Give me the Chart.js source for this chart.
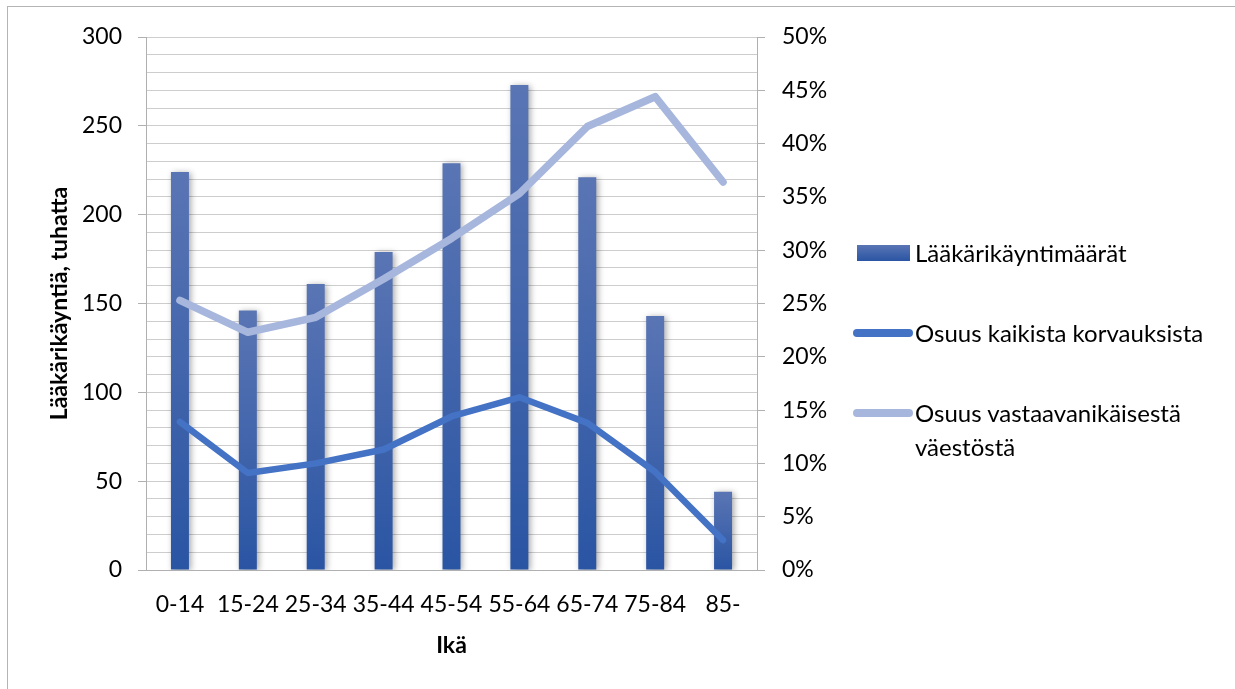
<!DOCTYPE html>
<html>
<head>
<meta charset="utf-8">
<script src="https://cdn.jsdelivr.net/npm/chart.js@4.4.1/dist/chart.umd.min.js"></script>
<style>
  html, body { margin: 0; padding: 0; background: #fff; }
  body { width: 1235px; height: 689px; position: relative; overflow: hidden; font-family: Lato, "Open Sans", sans-serif; }
  #frame { position: absolute; left: 7px; top: 6px; width: 1400px; height: 900px; border: 1px solid #b4b4b4; box-sizing: border-box; }
  #c { position: absolute; left: 0; top: 0; }
  .lg { position: absolute; left: 853px; font-size: 24px; color: #000; line-height: 34px; }
  .lg .sw { position: absolute; }
  .lg .tx { position: absolute; left: 62px; white-space: nowrap; }
</style>
</head>
<body>
<div id="frame"></div>
<canvas id="c" width="1235" height="689"></canvas>
<div id="legend"></div>
<script>
const categories = ['0-14', '15-24', '25-34', '35-44', '45-54', '55-64', '65-74', '75-84', '85-'];
const visits = [224, 146, 161, 179, 229, 273, 221, 143, 44];
const shareOfCompensations = [13.9, 9.1, 10.0, 11.3, 14.4, 16.2, 13.8, 9.2, 2.8];
const shareOfPopulation = [25.3, 22.3, 23.7, 27.3, 31.1, 35.3, 41.6, 44.4, 36.4];
const seriesNames = ['Lääkärikäyntimäärät', 'Osuus kaikista korvauksista', 'Osuus vastaavanikäisestä väestöstä'];
const leftTicks = [0, 50, 100, 150, 200, 250, 300];
const rightTicks = [0, 5, 10, 15, 20, 25, 30, 35, 40, 45, 50];

const BAR_TOP = '#5a75b4';
const BAR_BOTTOM = '#2a55a3';
const DARK_LINE = '#4472c4';
const LIGHT_LINE = '#a7b6dc';
const AXIS = '#b0b0b0';
const GRID = '#cdcdcd';
const FONT = 'Lato, "Open Sans", sans-serif';
const TICK_SIZE = 23;

function barGradient(context) {
  const chart = context.chart;
  const ys = chart.scales.y;
  if (!ys || context.dataIndex === undefined) return BAR_BOTTOM;
  const v = context.dataset.data[context.dataIndex];
  const top = ys.getPixelForValue(v);
  const base = ys.getPixelForValue(0);
  if (!isFinite(top) || !isFinite(base) || top === base) return BAR_BOTTOM;
  const g = chart.ctx.createLinearGradient(0, top, 0, base);
  g.addColorStop(0, BAR_TOP);
  g.addColorStop(1, BAR_BOTTOM);
  return g;
}

const shadowPlugin = {
  id: 'barShadow',
  beforeDatasetDraw(chart, args) {
    if (args.index === 0) {
      const ctx = chart.ctx;
      ctx.save();
      ctx.shadowColor = 'rgba(0,0,0,0.35)';
      ctx.shadowBlur = 6;
      ctx.shadowOffsetX = 2;
      ctx.shadowOffsetY = 1;
    }
  },
  afterDatasetDraw(chart, args) {
    if (args.index === 0) chart.ctx.restore();
  }
};

new Chart(document.getElementById('c'), {
  data: {
    labels: categories,
    datasets: [
      {
        type: 'bar', label: seriesNames[0], data: visits, yAxisID: 'y',
        backgroundColor: barGradient, borderWidth: 0,
        categoryPercentage: 1.0, barPercentage: 0.265, order: 3
      },
      {
        type: 'line', label: seriesNames[1], data: shareOfCompensations, yAxisID: 'y2',
        borderColor: DARK_LINE, backgroundColor: DARK_LINE, borderWidth: 6.5,
        pointRadius: 0, pointHoverRadius: 0, tension: 0, fill: false,
        borderCapStyle: 'round', borderJoinStyle: 'round', order: 1
      },
      {
        type: 'line', label: seriesNames[2], data: shareOfPopulation, yAxisID: 'y2',
        borderColor: LIGHT_LINE, backgroundColor: LIGHT_LINE, borderWidth: 7.5,
        pointRadius: 0, pointHoverRadius: 0, tension: 0, fill: false,
        borderCapStyle: 'round', borderJoinStyle: 'round', order: 2
      }
    ]
  },
  options: {
    responsive: false,
    animation: false,
    devicePixelRatio: 1,
    layout: { padding: { left: 0, right: 408, top: 37, bottom: 19 } },
    plugins: { legend: { display: false }, tooltip: { enabled: false } },
    scales: {
      x: {
        offset: true,
        grid: { display: false, drawTicks: false },
        border: { display: true, color: AXIS, width: 1 },
        ticks: { color: '#000', font: { family: FONT, size: TICK_SIZE }, padding: 21, maxRotation: 0, autoSkip: false },
        title: { display: true, text: 'Ikä', color: '#000', font: { family: FONT, size: 23, weight: 'bold' }, padding: { top: 0, bottom: 11 } },
        afterFit(s) { s.height = 100; }
      },
      y: {
        position: 'left', min: 0, max: 300,
        afterBuildTicks(s) {
          const t = [];
          for (let v = 0; v <= 300; v += 10) t.push({ value: v });
          s.ticks = t;
        },
        grid: {
          color: GRID, lineWidth: 1, tickLength: 8,
          tickColor: (c) => (c.tick && leftTicks.includes(c.tick.value)) ? AXIS : 'rgba(0,0,0,0)'
        },
        border: { display: true, color: AXIS, width: 1 },
        ticks: {
          autoSkip: false, color: '#000', font: { family: FONT, size: TICK_SIZE }, padding: 16,
          callback: (v) => leftTicks.includes(v) ? String(v) : ''
        },
        title: { display: true, text: 'Lääkärikäyntiä, tuhatta', color: '#000', font: { family: FONT, size: 23, weight: 'bold' }, padding: { top: 46, bottom: 0 } },
        afterFit(s) { s.width = 146; }
      },
      y2: {
        position: 'right', min: 0, max: 50,
        afterBuildTicks(s) { s.ticks = rightTicks.map(v => ({ value: v })); },
        grid: { drawOnChartArea: false, color: AXIS, tickLength: 8, tickColor: AXIS },
        border: { display: true, color: AXIS, width: 1 },
        ticks: { autoSkip: false, color: '#000', font: { family: FONT, size: TICK_SIZE }, padding: 17, callback: (v) => v + '%' },
        afterFit(s) { s.width = 70; }
      }
    }
  },
  plugins: [shadowPlugin]
});

// HTML legend (text wraps like the original)
const legendItems = [
  { kind: 'bar', y: 253, lines: [seriesNames[0]] },
  { kind: 'line', color: DARK_LINE, y: 333, lines: [seriesNames[1]] },
  { kind: 'line', color: LIGHT_LINE, y: 413, lines: ['Osuus vastaavanikäisestä', 'väestöstä'] }
];
const lg = document.getElementById('legend');
legendItems.forEach(it => {
  const d = document.createElement('div');
  d.className = 'lg';
  d.style.top = (it.y - 17) + 'px';
  const sw = document.createElement('div');
  sw.className = 'sw';
  if (it.kind === 'bar') {
    sw.style.cssText = 'left:4px;top:9px;width:53px;height:16px;background:linear-gradient(' + BAR_TOP + ',' + BAR_BOTTOM + ');';
  } else {
    sw.style.cssText = 'left:0;top:13px;width:60px;height:8px;border-radius:4px;background:' + it.color + ';';
  }
  d.appendChild(sw);
  const tx = document.createElement('div');
  tx.className = 'tx';
  tx.innerHTML = it.lines.map(l => '<div>' + l + '</div>').join('');
  d.appendChild(tx);
  lg.appendChild(d);
});
</script>
</body>
</html>
